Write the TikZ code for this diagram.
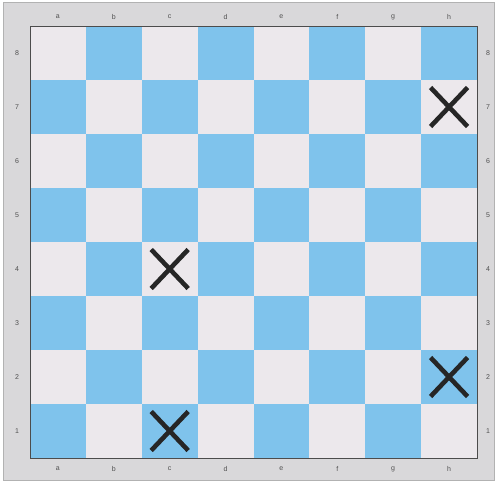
\documentclass[tikz,border=0pt]{standalone}
\usepackage{fontspec}
\setmainfont{Liberation Sans}
\usetikzlibrary{calc}
\definecolor{frame}{HTML}{D9D8DA}
\definecolor{lightsq}{HTML}{ECE8EC}
\definecolor{darksq}{HTML}{7FC3EC}
\definecolor{lbl}{HTML}{505050}
\begin{document}
\begin{tikzpicture}[x=1pt,y=-1pt,
  lab/.style={font=\fontsize{7}{7}\selectfont, text=lbl, inner sep=0pt},
  xmark/.style={line width=4.6pt, draw=black!85}]
\useasboundingbox (0,0) rectangle (497,483);
\fill[white] (0,0) rectangle (497,483);
\fill[frame] (3,2) rectangle (495,481);
\draw[gray!60, line width=0.6pt] (3.5,2.5) rectangle (494.5,480.5);
% squares
\def\bx{30}\def\by{26}\def\sw{55.875}\def\sh{54}
\foreach \c in {0,...,7}{
  \foreach \r in {0,...,7}{
    \pgfmathtruncatemacro{\myparity}{mod(\c+\r,2)}
    \ifnum\myparity=0 \def\col{lightsq}\else\def\col{darksq}\fi
    \fill[\col] ({\bx+\c*\sw},{\by+\r*\sh}) rectangle ({\bx+(\c+1)*\sw},{\by+(\r+1)*\sh});
  }
}
\node[draw=black!70, line width=1.2pt, minimum width=447pt, minimum height=432pt, inner sep=0pt, anchor=north west] (board) at (30,26) {};
% labels
\foreach \f [count=\i from 0] in {a,b,c,d,e,f,g,h}{
  \node[lab] (top\f) at ({\bx+(\i+0.5)*\sw},17) {\f};
  \node[lab] (bot\f) at ({\bx+(\i+0.5)*\sw},469) {\f};
}
\foreach \r in {1,...,8}{
  \node[lab] (left\r) at (17,{\by+(8.5-\r)*\sh}) {\r};
  \node[lab] (right\r) at (488,{\by+(8.5-\r)*\sh}) {\r};
}
% X marks
\foreach \name/\c/\r in {h7/7/7, c4/2/4, h2/7/2, c1/2/1}{
  \coordinate (\name) at ({\bx+(\c+0.5)*\sw},{\by+(8.5-\r)*\sh});
  \draw[xmark] ($(\name)+(-18.5,-19.5)$) -- ($(\name)+(18.5,19.5)$);
  \draw[xmark] ($(\name)+(-18.5,19.5)$) -- ($(\name)+(18.5,-19.5)$);
}
\end{tikzpicture}
\end{document}
